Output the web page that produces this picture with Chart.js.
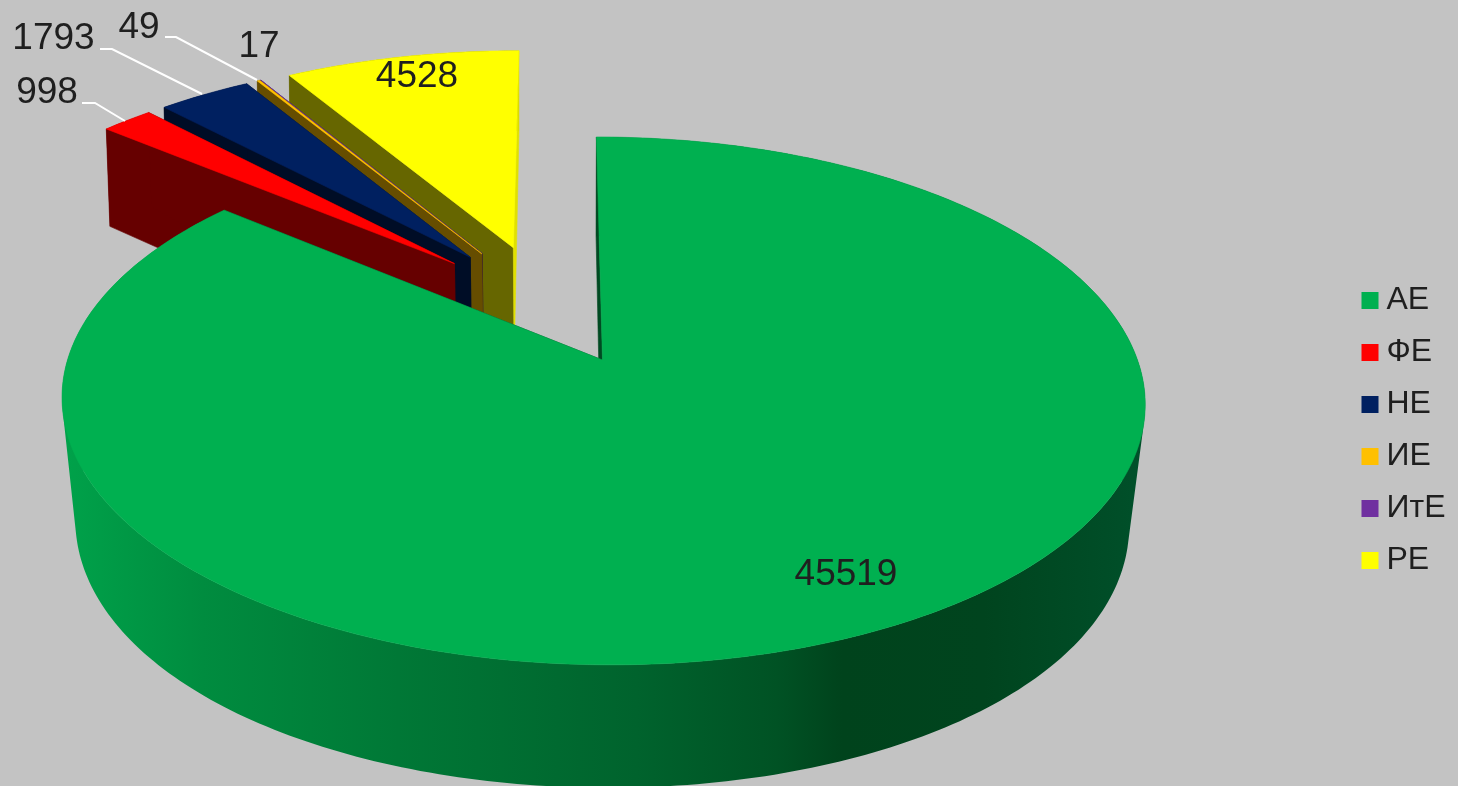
<!DOCTYPE html>
<html>
<head>
<meta charset="utf-8">
<style>
html,body{margin:0;padding:0;background:#c3c3c3;overflow:hidden}
canvas{display:block}
</style>
<script src="https://cdn.jsdelivr.net/npm/chart.js@4/dist/chart.umd.min.js"></script>
</head>
<body>
<canvas id="c" width="1458" height="786"></canvas>
<script>
const categories = ['АЕ','ФЕ','НЕ','ИЕ','ИтЕ','РЕ'];
const values = [45519,998,1793,49,17,4528];
const colors = ['#00B050','#FF0000','#002060','#FFC000','#7030A0','#FFFF00'];
const wallColors = ['#004a22','#660000','#000d26','#664d00','#2d1340','#666600'];
const endWallColors = ['#004a22','#660000','#000d26','#664d00','#2d1340','#e0e000'];

// projection of the pie plane to the screen
const K=0.155, M=0.025, A=535, B=257.6, XC=557, XA=45.5, Y0=360, EXPLODE=0.25, SMALL_R=1.008;
function project(u,v,z){
  const w=1+K*v-M*z*(1-0.6*v);
  const d=128-4*v-11*v*v;
  return [XC+(XA+A*u)/w, Y0-(B*v+d*z)/w];
}
function area(q){
  let s=0;
  q.forEach((p,i)=>{const r=q[(i+1)%q.length]; s+=p[0]*r[1]-r[0]*p[1];});
  return s;
}
function addPoly(ctx,pts){
  pts.forEach((p,i)=>i?ctx.lineTo(p[0],p[1]):ctx.moveTo(p[0],p[1]));
  ctx.closePath();
}
function paint(ctx,pts,style){
  ctx.beginPath();
  addPoly(ctx,pts);
  ctx.fillStyle=style; ctx.fill();
  ctx.strokeStyle=style; ctx.lineWidth=0.6; ctx.lineJoin='round'; ctx.stroke();
}
const valueLabels = [
  {i:0,x:846,y:575},{i:1,x:47,y:93,lead:[[82,103],[95,103],[125,121]]},
  {i:2,x:53.5,y:39,lead:[[100,49],[112,49],[202,94]]},
  {i:3,x:139,y:28,lead:[[165,37],[176,37],[257,80]]},
  {i:4,x:259,y:47},{i:5,x:417,y:77}
];
const pie3d = {
  id:'pie3d',
  beforeDatasetsDraw(chart){
    const ctx=chart.ctx, arcs=chart.getDatasetMeta(0).data;
    const mid=a=>(a.startAngle+a.endAngle)/2;
    const c0=Math.cos(mid(arcs[0])), s0=-Math.sin(mid(arcs[0]));
    const order=[5,4,3,2,1,0];
    ctx.save();
    order.forEach(i=>{
      const a=arcs[i];
      const m=mid(a);
      const ox=EXPLODE*(Math.cos(m)-c0), oy=EXPLODE*(-Math.sin(m)-s0);
      const r=i===0?1:SMALL_R;
      const n=Math.max(4,Math.ceil((a.endAngle-a.startAngle)*60));
      const rim=[];
      for(let k=0;k<=n;k++){
        const t=a.startAngle+(a.endAngle-a.startAngle)*k/n;
        rim.push([ox+r*Math.cos(t),oy-r*Math.sin(t)]);
      }
      const P=(q,z)=>project(q[0],q[1],z);
      const apex=[ox,oy];
      const wall=wallColors[i];
      let style=wall;
      if(i===0){
        const g=ctx.createLinearGradient(62,0,1146,0);
        [[0,'#00a24a'],[0.13,'#008c3f'],[0.31,'#007836'],[0.53,'#00632d'],[0.66,'#005224'],[0.72,'#00431c'],[0.85,'#00441e'],[1,'#00502a']]
          .forEach(s=>g.addColorStop(s[0],s[1]));
        style=g;
      }
      ctx.beginPath();
      for(let k=0;k<n;k++){
        const q=[P(rim[k],0),P(rim[k+1],0),P(rim[k+1],-1),P(rim[k],-1)];
        addPoly(ctx,area(q)<0?q.reverse():q);
      }
      ctx.fillStyle=style; ctx.fill();
      paint(ctx,[P(apex,0),P(rim[0],0),P(rim[0],-1),P(apex,-1)],wall);
      paint(ctx,[P(apex,0),P(rim[n],0),P(rim[n],-1),P(apex,-1)],endWallColors[i]);
      paint(ctx,[P(apex,0)].concat(rim.map(q=>P(q,0))),a.options.backgroundColor);
    });
    ctx.restore();
    return false;
  },
  afterDraw(chart){
    const ctx=chart.ctx;
    ctx.save();
    ctx.strokeStyle='#ffffff'; ctx.lineWidth=2;
    ctx.font='37px "Liberation Sans", Arial, sans-serif';
    ctx.textAlign='center'; ctx.textBaseline='middle'; ctx.fillStyle='#1f1f1f';
    valueLabels.forEach(l=>{
      if(l.lead){
        ctx.beginPath();
        l.lead.forEach((p,i)=>i?ctx.lineTo(p[0],p[1]):ctx.moveTo(p[0],p[1]));
        ctx.stroke();
      }
      ctx.fillText(String(values[l.i]),l.x,l.y);
    });
    ctx.restore();
  }
};
Chart.register(pie3d);
new Chart(document.getElementById('c'),{
  type:'pie',
  data:{labels:categories,datasets:[{data:values,backgroundColor:colors,borderWidth:0}]},
  options:{
    responsive:false,
    animation:false,
    layout:{padding:{top:75,right:2.5,bottom:0,left:0}},
    plugins:{
      tooltip:{enabled:false},
      legend:{
        position:'right',
        labels:{
          boxWidth:1,boxHeight:1,padding:20,color:'#1f1f1f',
          font:{family:'"Liberation Sans", Arial, sans-serif',size:32},
          generateLabels(chart){
            return Chart.overrides.pie.plugins.legend.labels.generateLabels(chart)
              .map((it,i)=>Object.assign(it,{strokeStyle:colors[i],fillStyle:colors[i],lineWidth:16,lineJoin:'miter'}));
          }
        }
      }
    }
  }
});
</script>
</body>
</html>
